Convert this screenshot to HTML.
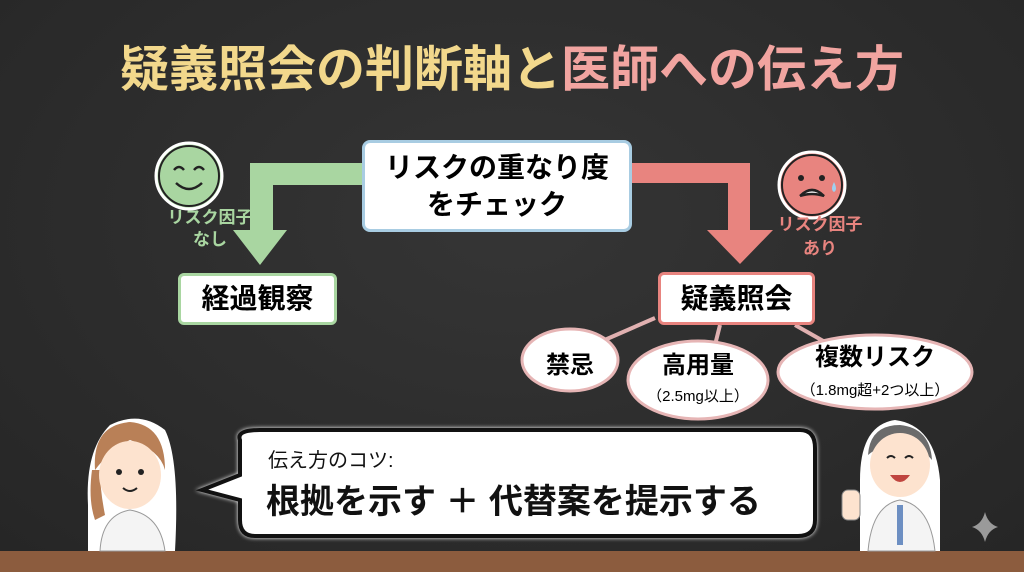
<!DOCTYPE html>
<html><head><meta charset="utf-8"><style>
body{margin:0;width:1024px;height:572px;overflow:hidden;background:#2a2a2a;font-family:"Liberation Sans","Noto Sans CJK JP",sans-serif}
.a{position:absolute}
.b{font-weight:bold}
</style></head><body>
<div class="a" style="left:0;top:0;width:1024px;height:552px;background:radial-gradient(ellipse at 50% 40%,#353535,#262626)"></div>
<div class="a" style="left:0;top:551px;width:1024px;height:21px;background:#8c5c3e"></div>
<div class="a" style="left:0;top:40px;width:1024px;text-align:center;font-size:49px;font-weight:bold;letter-spacing:0px;line-height:60px"><span style="color:#f2d88c">疑義照会の判断軸と</span><span style="color:#f1a4a0">医師への伝え方</span></div>
<svg class="a" style="left:0;top:0" width="1024" height="572">
<path d="M362 163 H250 V230 H233 L260 265 L287 230 H273 V185 H362Z" fill="#a9d6a1"/>
<path d="M632 163 H750 V230 H773 L740 264 L707 230 H728 V183 H632Z" fill="#e8847f"/>
<circle cx="189" cy="176" r="33" fill="#a9d6a1" stroke="#fff" stroke-width="3"/>
<circle cx="189" cy="176" r="30" fill="none" stroke="#222" stroke-width="2"/>
<path d="M174 170q5-6 10 0M194 170q5-6 10 0M176 183q13 12 26 0" stroke="#222" stroke-width="2.5" fill="none"/>
<circle cx="812" cy="185" r="33" fill="#e8847f" stroke="#fff" stroke-width="3"/>
<circle cx="812" cy="185" r="30" fill="none" stroke="#222" stroke-width="2"/>
<circle cx="801" cy="178" r="3" fill="#222"/><circle cx="822" cy="178" r="3" fill="#222"/>
<path d="M800 196q12-12 24 0q-12-4-24 0" stroke="#222" stroke-width="2.5" fill="#fff"/>
<path d="M834 182q-4 8 0 10q4-2 0-10z" fill="#9fd0ef"/>
<g stroke="#e0b0b0" stroke-width="4"><line x1="655" y1="318" x2="600" y2="342"/><line x1="720" y1="325" x2="715" y2="345"/><line x1="795" y1="325" x2="825" y2="342"/></g>
<g fill="#fff" stroke="#e6b5b5" stroke-width="3">
<ellipse cx="570" cy="360" rx="48" ry="31"/><ellipse cx="698" cy="380" rx="70" ry="39"/><ellipse cx="875" cy="372" rx="97" ry="37"/></g>
<path d="M240 440 Q236 430 260 430 H800 Q815 430 815 448 V520 Q815 536 798 536 H255 Q240 536 240 520 V500 L202 490 L240 475Z" fill="#fff" stroke="#111" stroke-width="4" style="filter:drop-shadow(0 0 2px #fff)"/>
<!-- woman -->
<path d="M88 551 V505 Q85 450 110 425 Q140 410 165 430 Q180 460 175 551Z" fill="#fff"/>
<path d="M95 470 Q92 425 130 422 Q165 425 165 470 Q160 450 130 440 Q110 450 95 470Z" fill="#b98057"/>
<path d="M92 470 Q88 500 95 520 L105 515 Q100 490 100 470Z" fill="#b98057"/>
<ellipse cx="130" cy="475" rx="31" ry="34" fill="#fde3cf"/>
<circle cx="119" cy="472" r="3" fill="#222"/><circle cx="141" cy="472" r="3" fill="#222"/>
<path d="M123 488q7 6 14 0" stroke="#222" stroke-width="2" fill="none"/>
<path d="M100 551 Q102 515 130 510 Q160 515 165 551Z" fill="#f4f4f4" stroke="#999"/>
<!-- man -->
<path d="M860 551 V480 Q860 425 895 420 Q935 425 940 480 V551Z" fill="#fff"/>
<path d="M868 455 Q870 425 900 425 Q930 428 932 460 Q915 440 895 445 Q880 445 868 455Z" fill="#6b6b6b"/>
<ellipse cx="900" cy="465" rx="30" ry="32" fill="#fde3cf"/>
<path d="M887 458q4-4 8 0M905 458q4-4 8 0" stroke="#222" stroke-width="2" fill="none"/>
<path d="M890 475q10 14 20 0z" fill="#c0453f"/>
<path d="M868 551 Q872 505 900 500 Q930 505 935 551Z" fill="#f4f4f4" stroke="#999"/>
<rect x="897" y="505" width="6" height="40" fill="#6d8fc2"/>
<rect x="842" y="490" width="18" height="30" rx="6" fill="#fde3cf" stroke="#888"/>
<path d="M985 512 Q988 524 998 527 Q988 530 985 542 Q982 530 972 527 Q982 524 985 512Z" fill="#9a9a9a"/>
</svg>
<div class="a b" style="left:362px;top:140px;width:264px;background:#fff;border:3px solid #a8cce2;border-radius:8px;font-size:28px;text-align:center;line-height:37px;padding-top:6px;height:80px">リスクの重なり度<br>をチェック</div>
<div class="a" style="left:160px;top:207px;width:100px;text-align:center;color:#a9d6a1;font-size:17px;line-height:22px;font-weight:bold">リスク因子<br>なし</div>
<div class="a" style="left:765px;top:213px;width:110px;text-align:center;color:#e8847f;font-size:17px;line-height:24px;font-weight:bold">リスク因子<br>あり</div>
<div class="a b" style="left:178px;top:273px;width:153px;height:46px;background:#fff;border:3px solid #a9d6a1;border-radius:6px;font-size:28px;text-align:center;line-height:46px">経過観察</div>
<div class="a b" style="left:658px;top:272px;width:151px;height:47px;background:#fff;border:3px solid #e8847f;border-radius:6px;font-size:28px;text-align:center;line-height:47px">疑義照会</div>
<div class="a b" style="left:522px;top:345px;width:96px;text-align:center;font-size:24px">禁忌</div>
<div class="a" style="left:628px;top:352px;width:140px;text-align:center;font-size:24px;line-height:28px"><b>高用量</b><br><span style="font-size:15px">（2.5mg以上）</span></div>
<div class="a" style="left:778px;top:343px;width:194px;text-align:center;font-size:24px;line-height:30px"><b>複数リスク</b><br><span style="font-size:15px">（1.8mg超+2つ以上）</span></div>
<div class="a" style="left:268px;top:444px;font-size:20px;color:#111">伝え方のコツ:</div>
<div class="a b" style="left:266px;top:474px;font-size:34px;color:#111;white-space:nowrap">根拠を示す ＋ 代替案を提示する</div>
</body></html>
